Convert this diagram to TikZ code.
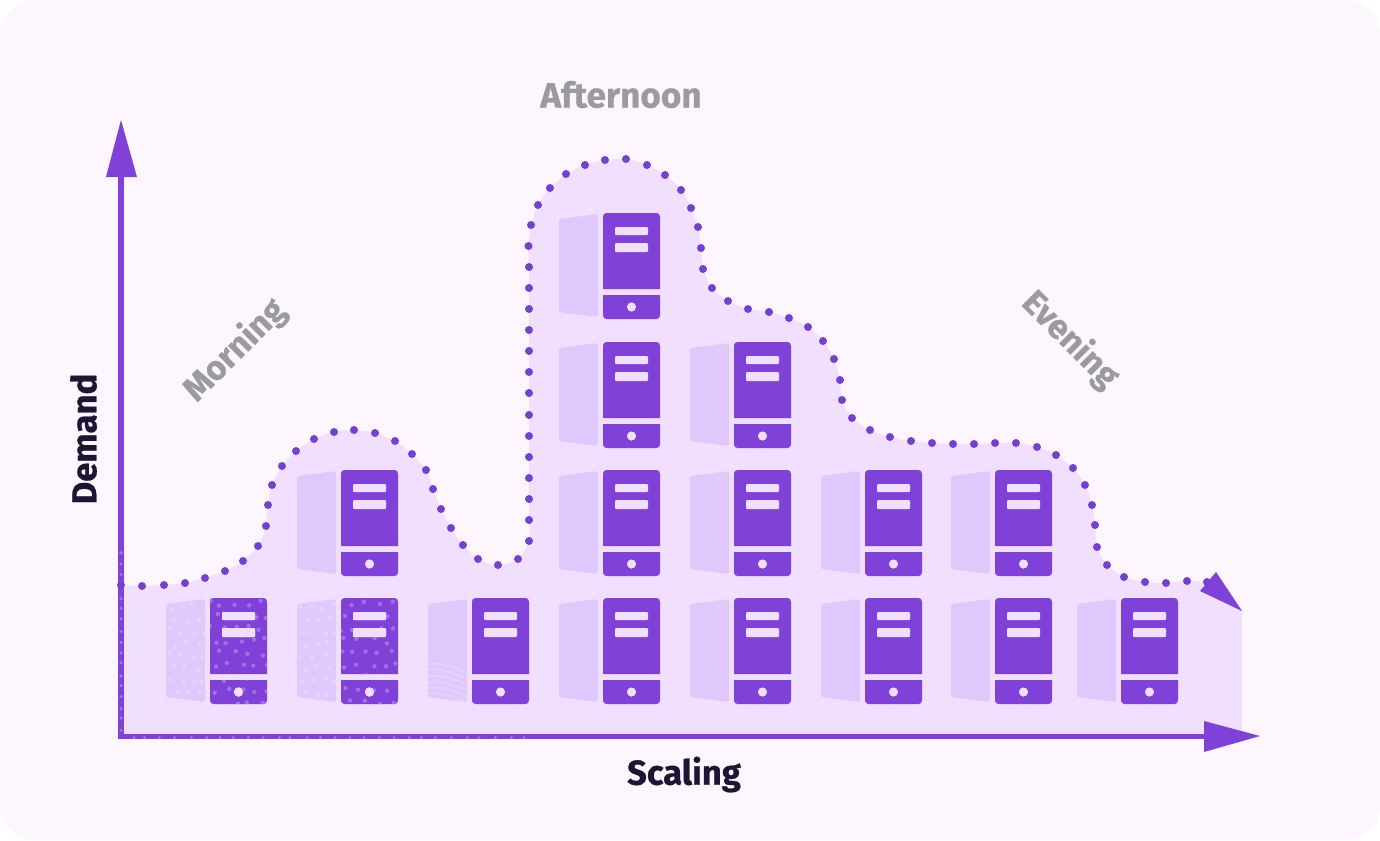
\documentclass[tikz,border=0pt]{standalone}
\usepackage{fontspec}
\setmainfont{Fira Sans}[BoldFeatures={FakeBold=0.7}]
\definecolor{paper}{HTML}{FDF6FF}
\definecolor{areafill}{HTML}{F0DFFF}
\definecolor{doorc}{HTML}{E0C8FD}
\definecolor{doortex}{HTML}{E6D2FE}
\definecolor{towerc}{HTML}{7F41D7}
\definecolor{dotc}{HTML}{7540D2}
\definecolor{texc}{HTML}{A070E4}
\definecolor{inkc}{HTML}{1E1433}
\definecolor{greyc}{HTML}{9B9B9E}
\tikzset{
  serverdoor/.style={fill=doorc,rounded corners=0.05cm},
  serverlight/.style={fill=areafill,rounded corners=0.02cm},
  axisline/.style={draw=towerc,line width=2.85pt},
  axishead/.style={fill=towerc},
  phase/.style={font=\fontsize{20pt}{22pt}\selectfont\bfseries,text=greyc,inner sep=0pt},
  phaseturned/.style={font=\fontsize{19.4pt}{22pt}\selectfont\bfseries,text=greyc,inner sep=0pt},
  axislabel/.style={font=\fontsize{19.7pt}{22pt}\selectfont\bfseries,text=inkc,inner sep=0pt},
  serverfront/.pic={
    \fill[serverlight] (12,14) rectangle (45,22);
    \fill[serverlight] (12,30) rectangle (45,39);
    \fill[areafill] (28.5,94) circle[radius=4.6];
  },
  server/.pic={
    \fill[serverdoor] (-44,6) -- (-5,1) -- (-5,104) -- (-44,99) -- cycle;
    \fill[towerc] (0,76) [rounded corners=0.07cm] -- (0,0) -- (57,0) [sharp corners] -- (57,76) -- cycle;
    \fill[towerc] (0,82) -- (57,82) [rounded corners=0.07cm] -- (57,106) -- (0,106) [sharp corners] -- cycle;
    \pic {serverfront};
  }
}
\begin{document}
\begin{tikzpicture}[x=0.02cm,y=-0.02cm]
\useasboundingbox (0,0) rectangle (1380,840);
\fill[white] (0,0) rectangle (1380,840);
\fill[paper,rounded corners=0.7cm] (0,0) rectangle (1380,840);
% demand area
\fill[areafill] (120,736) -- (120,585) -- plot[smooth,tension=0.5] coordinates {(121,585) (142,586) (164,585) (185,583) (205,578) (225,571) (243,561) (258,546) (266,526) (268,505) (272,485) (282,466) (296,451) (314,439) (334,432) (354,430) (375,433) (395,441) (412,454) (426,470) (433,489) (441,509) (451,528) (463,545) (478,559) (498,565) (518,559) (529,541) (529,520) (529,499) (529,478) (529,457) (529,436) (529,415) (529,393) (529,372) (529,351) (529,330) (529,309) (529,288) (529,267) (528.5,246) (531,225) (538,205) (550,188) (566,174) (585,165) (605,160) (626,159) (647,165) (665,175) (681,190) (691,208) (698,227) (701,248) (703,269) (712,288) (728,301) (748,309) (769,312) (789,318) (808,327) (823,341) (834,359) (840,380) (842,400) (852,418) (870,430) (890,437) (911,441) (932,443) (953,444) (974,444) (995,443) (1016,443) (1037,447) (1056,455) (1073,468) (1085,485) (1092,505) (1095,525) (1097,547) (1107,565) (1124,577) (1145,582) (1166,583) (1187,581) (1207,582)} -- (1242,611) -- (1242,736) -- cycle;
% servers
\foreach \sx/\sy in {210/598,341/598,472/598,603/598,734/598,865/598,995/598,1121/598,341/470,603/470,734/470,865/470,995/470,603/342,734/342,603/213}
  \pic at (\sx,\sy) {server};
% speckle on the two first servers
\pgfmathsetseed{4711}
\foreach \tx in {210,341} {
  \begin{scope}
    \clip (\tx,598) [rounded corners=0.07cm] -- (\tx+57,598) [sharp corners] -- (\tx+57,674) -- (\tx,674) -- cycle (\tx,680) rectangle ++(57,24);
    \foreach \i in {0,...,4} \foreach \j in {0,...,8} {
      \pgfmathsetmacro{\px}{\tx-4+\i*13+mod(\j,2)*6+rnd*6}
      \pgfmathsetmacro{\py}{600+\j*12.5+rnd*6}
      \fill[texc] (\px,\py) circle[radius=2.2];
    }
  \end{scope}
  \begin{scope}
    \clip (\tx-44,604) -- (\tx-5,599) -- (\tx-5,702) -- (\tx-44,697) -- cycle;
    \foreach \i in {0,...,3} \foreach \j in {0,...,8} {
      \pgfmathsetmacro{\px}{\tx-42+\i*11+mod(\j,2)*5+rnd*5}
      \pgfmathsetmacro{\py}{603+\j*12.5+rnd*7}
      \fill[doortex] (\px,\py) circle[radius=2.2];
    }
  \end{scope}
  \pic at (\tx,598) {serverfront};
}
% swirl on the third door
\begin{scope}
  \clip (428,604) -- (467,599) -- (467,702) -- (428,697) -- cycle;
  \foreach \k in {0,...,5}
    \draw[doortex,line width=0.9pt] (428,{664+\k*6}) .. controls (442,{662+\k*6}) and (455,{668+\k*6}) .. (467,{672+\k*6});
\end{scope}
% axes
\draw[axisline] (121,738.5) -- (121,170);
\fill[axishead] (121,120) -- (137,177) -- (106,177) -- cycle;
\draw[axisline] (118.5,736) -- (1210,736);
\fill[axishead] (1260,736) -- (1204,752) -- (1204,721) -- cycle;
\fill[axishead] (1242,611) -- (1200,591) -- (1216,572) -- cycle;
% speckle on the axes
\foreach \j in {0,...,16} {
  \pgfmathsetmacro{\py}{552+\j*11+rnd*3}
  \fill[texc] (121,\py) circle[radius=1.9];
}
\foreach \i in {0,...,27} {
  \pgfmathsetmacro{\px}{130+\i*14.5+rnd*5}
  \fill[texc] (\px,737.5) circle[radius=1.7];
}
% curve of dots
\foreach \p in {(121,585),(142,586),(164,585),(185,583),(205,578),(225,571),(243,561),(258,546),(266,526),(268,505),(272,485),(282,466),(296,451),(314,439),(334,432),(354,430),(375,433),(395,441),(412,454),(426,470),(433,489),(441,509),(451,528),(463,545),(478,559),(498,565),(518,559),(529,541),(529,520),(529,499),(529,478),(529,457),(529,436),(529,415),(529,393),(529,372),(529,351),(529,330),(529,309),(529,288),(529,267),(528.5,246),(531,225),(538,205),(550,188),(566,174),(585,165),(605,160),(626,159),(647,165),(665,175),(681,190),(691,208),(698,227),(701,248),(703,269),(712,288),(728,301),(748,309),(769,312),(789,318),(808,327),(823,341),(834,359),(840,380),(842,400),(852,418),(870,430),(890,437),(911,441),(932,443),(953,444),(974,444),(995,443),(1016,443),(1037,447),(1056,455),(1073,468),(1085,485),(1092,505),(1095,525),(1097,547),(1107,565),(1124,577),(1145,582),(1166,583),(1187,581),(1207,582)}
  \fill[dotc] \p circle[radius=4];
% labels
\node[phase] (afternoon) at (621,94.5) {Afternoon};
\node[phaseturned,rotate=45] (morning) at (235,350.5) {Morning};
\node[phaseturned,rotate=-45] (evening) at (1070,340) {Evening};
\node[axislabel,rotate=90] (demand) at (83.5,439) {Demand};
\node[axislabel] (scaling) at (684,774.5) {Scaling};
\end{tikzpicture}
\end{document}
